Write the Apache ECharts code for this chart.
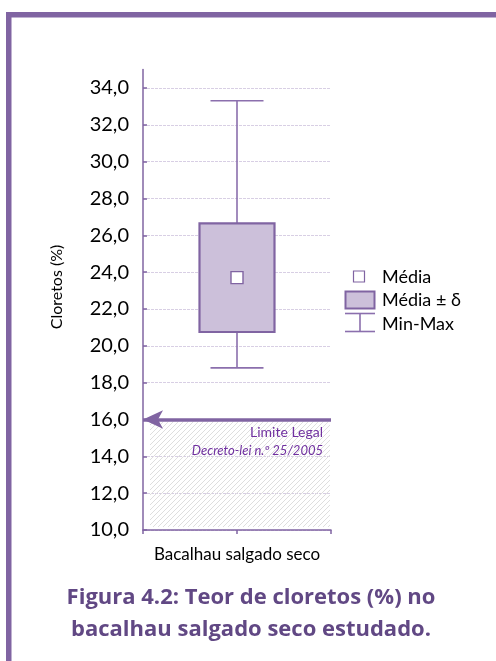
<!DOCTYPE html>
<html>
<head>
<meta charset="utf-8">
<title>Teor de cloretos</title>
<script src="https://cdn.jsdelivr.net/npm/echarts@6/dist/echarts.min.js"></script>
<style>
  html, body { margin: 0; padding: 0; background: #ffffff; }
  #chart { width: 496px; height: 661px; }
</style>
</head>
<body>
<div id="chart"></div>
<script>
// Sample categories and statistics (% chlorides)
const categories = ['Bacalhau salgado seco'];
const meanValues = [23.7];
const deltaValues = [2.95];
const minValues = [18.8];
const maxValues = [33.3];

// Legal limit (Decreto-lei n.º 25/2005) and the lower bound of the axis
const legalLimit = 16;
const yMin = 10;
const yMax = 35;
const yTickValues = [10, 12, 14, 16, 18, 20, 22, 24, 26, 28, 30, 32, 34];

const PURPLE = '#8064a2';
const BOX_FILL = '#ccc0da';
const FONT = 'Lato';
const CAPTION_FONT = '"Open Sans"';

// each category sits in the middle of a unit-wide slot on the x axis
const boxData = categories.map((c, i) => [
  i + 0.5,
  minValues[i],
  meanValues[i] - deltaValues[i],
  meanValues[i],
  meanValues[i] + deltaValues[i],
  maxValues[i]
]);

// diagonal hatch tile for the region below the legal limit
function hatchTile() {
  const s = 5;
  const c = document.createElement('canvas');
  c.width = s; c.height = s;
  const g = c.getContext('2d');
  g.strokeStyle = '#dedede';
  g.lineWidth = 1;
  g.beginPath();
  g.moveTo(-1, s + 1); g.lineTo(s + 1, -1);
  g.moveTo(-1, 1); g.lineTo(1, -1);
  g.moveTo(s - 1, s + 1); g.lineTo(s + 1, s - 1);
  g.stroke();
  return c;
}
const hatch = hatchTile();

const chart = echarts.init(document.getElementById('chart'), null, { renderer: 'canvas' });

const option = {
  backgroundColor: '#ffffff',
  animation: false,
  grid: { left: 143, right: 165, top: 69.5, bottom: 131, containLabel: false },
  xAxis: {
    type: 'value',
    min: 0,
    max: categories.length,
    interval: 0.5,
    axisLine: { show: true, lineStyle: { color: PURPLE, width: 1.5 } },
    axisTick: { show: true, inside: false, length: 4, lineStyle: { color: PURPLE, width: 1.5 } },
    axisLabel: {
      customValues: categories.map((c, i) => i + 0.5),
      formatter: v => categories[Math.floor(v)] || '',
      color: '#000000',
      fontFamily: FONT,
      fontSize: 17,
      margin: 16
    },
    splitLine: { show: false }
  },
  yAxis: {
    type: 'value',
    min: yMin,
    max: yMax,
    axisLine: { show: true, onZero: false, lineStyle: { color: PURPLE, width: 1.5 } },
    axisTick: { show: true, inside: true, length: 4, customValues: yTickValues, lineStyle: { color: PURPLE, width: 1.5 } },
    axisLabel: {
      customValues: yTickValues,
      formatter: v => v.toFixed(1).replace('.', ','),
      color: '#000000',
      fontFamily: FONT,
      fontSize: 20,
      margin: 14
    },
    splitLine: { show: true, lineStyle: { color: '#d8cfe4', width: 1, type: [3, 1] } }
  },
  series: [
    {
      // hatched band under the legal limit, with the limit arrow
      type: 'custom',
      name: 'Limite',
      silent: true,
      z: 1,
      data: [[0, categories.length, legalLimit, yMin]],
      renderItem: function (params, api) {
        const p0 = api.coord([api.value(0), api.value(2)]);
        const p1 = api.coord([api.value(1), api.value(3)]);
        return {
          type: 'rect',
          shape: { x: p0[0] + 7, y: p0[1] + 2, width: p1[0] - p0[0] - 8, height: p1[1] - p0[1] - 5 },
          style: { fill: { image: hatch, repeat: 'repeat' }, stroke: null }
        };
      },
      markLine: {
        silent: true,
        symbol: ['arrow', 'none'],
        symbolSize: [14, 20],
        lineStyle: { color: PURPLE, width: 3.5, type: 'solid' },
        label: {
          show: true,
          position: 'insideEndBottom',
          distance: [8, 4],
          formatter: '{a|Limite Legal}\n{b|Decreto-lei n.º 25/2005}',
          align: 'right',
          rich: {
            a: { color: '#7030a0', fontFamily: FONT, fontSize: 14, lineHeight: 18, align: 'right' },
            b: { color: '#7030a0', fontFamily: FONT, fontSize: 13, fontStyle: 'italic', lineHeight: 18, align: 'right' }
          }
        },
        data: [{ yAxis: legalLimit }]
      }
    },
    {
      // whiskers (min-max), box (mean ± δ) and the mean marker
      type: 'custom',
      name: 'Cloretos',
      z: 3,
      data: boxData,
      renderItem: function (params, api) {
        const x = api.value(0);
        const pMin = api.coord([x, api.value(1)]);
        const pLo = api.coord([x, api.value(2)]);
        const pMean = api.coord([x, api.value(3)]);
        const pHi = api.coord([x, api.value(4)]);
        const pMax = api.coord([x, api.value(5)]);
        const boxW = 75;
        const capW = 53;
        const mk = 12;
        const cx = pMean[0];
        const wStyle = { stroke: '#8b6fad', lineWidth: 1.6 };
        return {
          type: 'group',
          children: [
            { type: 'line', shape: { x1: cx, y1: pMax[1], x2: cx, y2: pMin[1] }, style: wStyle },
            { type: 'line', shape: { x1: cx - capW / 2, y1: pMax[1], x2: cx + capW / 2, y2: pMax[1] }, style: wStyle },
            { type: 'line', shape: { x1: cx - capW / 2, y1: pMin[1], x2: cx + capW / 2, y2: pMin[1] }, style: wStyle },
            {
              type: 'rect',
              shape: { x: cx - boxW / 2, y: pHi[1], width: boxW, height: pLo[1] - pHi[1] },
              style: { fill: BOX_FILL, stroke: PURPLE, lineWidth: 2.2 }
            },
            {
              type: 'rect',
              shape: { x: cx - mk / 2, y: pMean[1] - mk / 2, width: mk, height: mk },
              style: { fill: '#ffffff', stroke: PURPLE, lineWidth: 1.4 }
            }
          ]
        };
      }
    }
  ],
  graphic: [
    // page frame
    { type: 'rect', silent: true, shape: { x: 6, y: 12, width: 490, height: 5.5 }, style: { fill: PURPLE } },
    { type: 'rect', silent: true, shape: { x: 6, y: 12, width: 5.5, height: 649 }, style: { fill: PURPLE } },
    // y axis title
    {
      type: 'text', silent: true, x: 57, y: 287, rotation: Math.PI / 2,
      style: { text: 'Cloretos (%)', font: '16px ' + FONT, fill: '#000000', align: 'center', verticalAlign: 'middle' }
    },
    // legend
    { type: 'rect', silent: true, shape: { x: 353.5, y: 271, width: 11, height: 11 }, style: { fill: '#ffffff', stroke: PURPLE, lineWidth: 1.2 } },
    { type: 'text', silent: true, x: 382, y: 277, style: { text: 'Média', font: '18px ' + FONT, fill: '#000000', verticalAlign: 'middle' } },
    { type: 'rect', silent: true, shape: { x: 345.5, y: 291.5, width: 29, height: 17 }, style: { fill: BOX_FILL, stroke: PURPLE, lineWidth: 2 } },
    { type: 'text', silent: true, x: 382, y: 300, style: { text: 'Média ± δ', font: '18px ' + FONT, fill: '#000000', verticalAlign: 'middle' } },
    { type: 'line', silent: true, shape: { x1: 345, y1: 313.5, x2: 375, y2: 313.5 }, style: { stroke: '#8b6fad', lineWidth: 1.6 } },
    { type: 'line', silent: true, shape: { x1: 345, y1: 331.5, x2: 375, y2: 331.5 }, style: { stroke: '#8b6fad', lineWidth: 1.6 } },
    { type: 'line', silent: true, shape: { x1: 360, y1: 313.5, x2: 360, y2: 331.5 }, style: { stroke: '#8b6fad', lineWidth: 1.6 } },
    { type: 'text', silent: true, x: 382, y: 324, style: { text: 'Min-Max', font: '18px ' + FONT, fill: '#000000', verticalAlign: 'middle' } },
    // caption
    {
      type: 'text', silent: true, x: 251, y: 614,
      style: {
        text: 'Figura 4.2: Teor de cloretos (%) no\nbacalhau salgado seco estudado.',
        font: 'bold 22px ' + CAPTION_FONT, fill: '#614884', align: 'center', verticalAlign: 'middle', lineHeight: 32
      }
    }
  ]
};

chart.setOption(option);
</script>
</body>
</html>
